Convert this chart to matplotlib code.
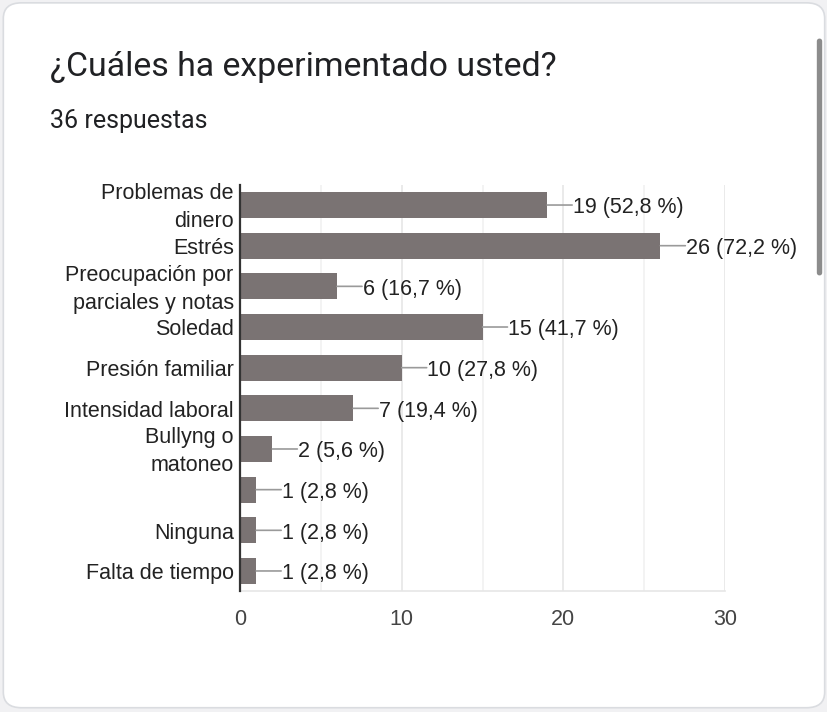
import matplotlib.pyplot as plt
from matplotlib.patches import FancyBboxPatch
from matplotlib.ticker import MultipleLocator

# datos de la encuesta
categorias = ["Problemas de\ndinero", "Estrés", "Preocupación por\nparciales y notas",
              "Soledad", "Presión familiar", "Intensidad laboral",
              "Bullyng o\nmatoneo", "", "Ninguna", "Falta de tiempo"]
conteos = [19, 26, 6, 15, 10, 7, 2, 1, 1, 1]
porcentajes = ["52,8", "72,2", "16,7", "41,7", "27,8", "19,4", "5,6", "2,8", "2,8", "2,8"]
total = 36
ticks_x = [0, 10, 20, 30]

fig = plt.figure(figsize=(8.28, 7.12), dpi=100)
fig.patch.set_facecolor("#f1f1f3")

# tarjeta blanca con bordes redondeados
card = FancyBboxPatch((0.004, 0.006), 0.992, 0.99, boxstyle="round,pad=0,rounding_size=0.022",
                      transform=fig.transFigure, facecolor="white", edgecolor="#dadce0",
                      linewidth=1.2, zorder=-5)
fig.patches.append(card)

# barra de scroll
scroll = FancyBboxPatch((0.9865, 0.613), 0.0065, 0.333, boxstyle="round,pad=0,rounding_size=0.004",
                        transform=fig.transFigure, facecolor="#8c8c8c", edgecolor="none",
                        zorder=-4)
fig.patches.append(scroll)

fig.text(50/828, 1 - 67/712, "¿Cuáles ha experimentado usted?", fontsize=24.4,
         family="Roboto", color="#202124", va="center", ha="left")
fig.text(50/828, 1 - 121/712, f"{total} respuestas", fontsize=18,
         family="Roboto", color="#202124", va="center", ha="left")

ax = fig.add_axes([240/828, 1 - 591.3/712, 485/828, 406.6/712])
ax.set_facecolor("none")
y = list(range(len(categorias)))
ax.barh(y, conteos, height=0.64, color="#7a7373", zorder=3)

for yi, c, p in zip(y, conteos, porcentajes):
    # linea guia
    ax.annotate("", xy=(c, yi), xytext=(18, 0), textcoords="offset points",
                arrowprops=dict(arrowstyle="-", color="#9a9a9a", lw=1.2,
                                shrinkA=0, shrinkB=0))
    ax.annotate(f"{c} ({p} %)", xy=(c, yi), xytext=(18.5, -2.0), textcoords="offset points",
                ha="left", va="center", fontsize=15.5, family="Liberation Sans",
                color="#222222")

# etiquetas de categoria (a mano para controlar el centrado de las de dos lineas)
for yi, cat in zip(y, categorias):
    ax.annotate(cat, xy=(0, yi), xycoords=("axes fraction", "data"),
                xytext=(-4.5, -2.0), textcoords="offset points",
                ha="right", va="center", fontsize=15.5, family="Liberation Sans",
                color="#222222", linespacing=1.45, annotation_clip=False)

ax.set_xlim(0, 30)
ax.set_ylim(len(categorias) - 0.5, -0.5)
ax.set_yticks([])
ax.set_xticks(ticks_x)
ax.set_xticklabels([str(t) for t in ticks_x], fontsize=15.5, family="Liberation Sans",
                   color="#444444")
ax.xaxis.set_minor_locator(MultipleLocator(5))
ax.tick_params(axis="both", which="both", length=0)
ax.tick_params(axis="x", pad=12.5)
ax.grid(axis="x", which="major", color="#e6e6e6", lw=1.2, zorder=0)
ax.grid(axis="x", which="minor", color="#f1f1f1", lw=1.2, zorder=0)

for s in ["top", "right"]:
    ax.spines[s].set_visible(False)
ax.spines["bottom"].set_color("#e6e6e6")
ax.spines["bottom"].set_linewidth(1.2)
ax.spines["left"].set_color("#333333")
ax.spines["left"].set_linewidth(1.6)
ax.spines["left"].set_zorder(4)

fig.savefig("out.png", dpi=100, facecolor=fig.get_facecolor())
